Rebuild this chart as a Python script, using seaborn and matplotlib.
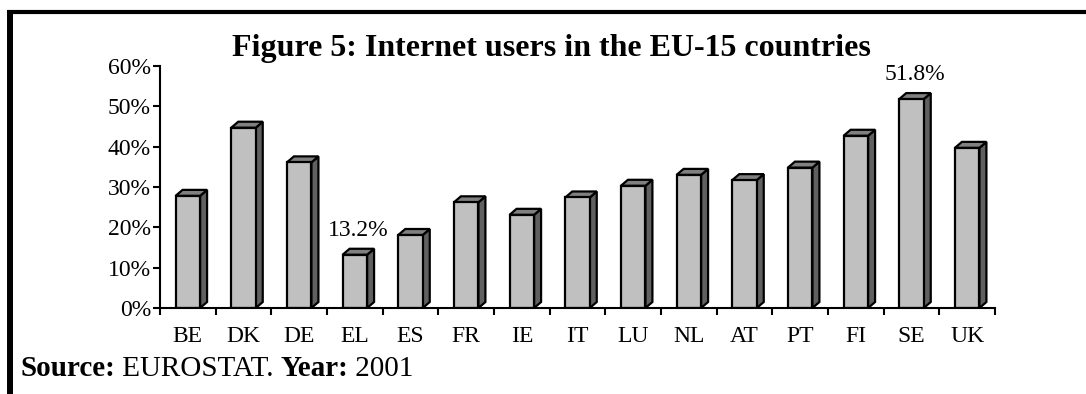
import numpy as np
import pandas as pd
import matplotlib
matplotlib.use("Agg")
import matplotlib.pyplot as plt
from matplotlib.patches import Polygon
from matplotlib.lines import Line2D
from matplotlib.ticker import FixedLocator, FuncFormatter
import seaborn as sns

# Share of internet users by EU-15 country, 2001 (percent)
countries = ["BE", "DK", "DE", "EL", "ES", "FR", "IE", "IT",
             "LU", "NL", "AT", "PT", "FI", "SE", "UK"]
users_pct = [27.8, 44.7, 36.1, 13.2, 18.1, 26.2, 23.1, 27.4,
             30.3, 33.0, 31.7, 34.8, 42.7, 51.8, 39.7]
labelled = ["EL", "SE"]          # min and max get a value label
y_ticks = [0, 10, 20, 30, 40, 50, 60]

sns.set_theme(style="white")
plt.rcParams["font.family"] = ["Liberation Serif", "DejaVu Serif"]

W, H = 1086, 394
fig = plt.figure(figsize=(W / 100, H / 100), dpi=100)
ax = fig.add_axes([160 / W, 1 - 308 / H, 835 / W, 242 / H])

df = pd.DataFrame({"country": countries, "users": users_pct})
sns.barplot(data=df, x="country", y="users", order=countries,
            color="#c0c0c0", saturation=1, width=0.44,
            edgecolor="black", linewidth=1.6, ax=ax, zorder=3)

ax.set_xlim(-0.5, len(countries) - 0.5)
ax.set_ylim(y_ticks[0], y_ticks[-1])
ax.set_xlabel("")
ax.set_ylabel("")

# pseudo-3D: extrude each bar with a side and a top face
p0 = ax.transData.transform((0, 0))
p1 = ax.transData.transform((1, 1))
ddx = 7 / (p1[0] - p0[0])
ddy = 6 / (p1[1] - p0[1])
for bar in list(ax.patches):
    x0, w, h = bar.get_x(), bar.get_width(), bar.get_height()
    xr = x0 + w
    side = Polygon([(xr, 0), (xr, h), (xr + ddx, h + ddy), (xr + ddx, ddy)],
                   closed=True, fc="#606060", ec="black", lw=1.6,
                   clip_on=False, zorder=2, joinstyle="miter")
    top = Polygon([(x0, h), (xr, h), (xr + ddx, h + ddy), (x0 + ddx, h + ddy)],
                  closed=True, fc="#808080", ec="black", lw=1.6,
                  clip_on=False, zorder=2, joinstyle="miter")
    ax.add_patch(side)
    ax.add_patch(top)

# axes styling
for s in ("top", "right"):
    ax.spines[s].set_visible(False)
for s in ("left", "bottom"):
    ax.spines[s].set_color("black")
    ax.spines[s].set_linewidth(1.5)
    ax.spines[s].set_zorder(4)

ax.set_yticks(y_ticks)
ax.yaxis.set_major_formatter(FuncFormatter(lambda v, _: f"{v:.0f}%"))
ax.tick_params(axis="y", direction="out", length=5, width=1.5,
               color="black", labelsize=17, pad=1.5, left=True)
ax.xaxis.set_minor_locator(FixedLocator(np.arange(-0.5, len(countries), 1)))
ax.tick_params(axis="x", which="major", length=0, labelsize=17, pad=13)
ax.tick_params(axis="x", which="minor", direction="out", length=5,
               width=1.5, color="black", bottom=True)
for lab in ax.get_xticklabels() + ax.get_yticklabels():
    lab.set_color("black")

# value labels
for c in labelled:
    i = countries.index(c)
    v = users_pct[i]
    ax.annotate(f"{v:.1f}%", xy=(i + ddx / 2, v + ddy), xytext=(0, 9.5),
                textcoords="offset points", ha="center", va="baseline",
                fontsize=17, color="black", annotation_clip=False)

# title
fig.text(551.5 / W, 1 - 56 / H, "Figure 5: Internet users in the EU-15 countries",
         ha="center", va="baseline", fontsize=23, fontweight="bold",
         color="black")

# source line with mixed weights, pieces placed one after another
parts = [("Source:", "bold"), (" EUROSTAT. ", "normal"),
         ("Year:", "bold"), (" 2001", "normal")]
fig.canvas.draw()
renderer = fig.canvas.get_renderer()
x_cursor = 20
for txt, wt in parts:
    t = fig.text(x_cursor / W, 1 - 376 / H, txt, ha="left", va="baseline",
                 fontsize=21, fontweight=wt, color="black")
    x_cursor = t.get_window_extent(renderer).x1

# page frame: thick rule on top and left
fig.add_artist(Line2D([7 / W, 1], [1 - 12 / H, 1 - 12 / H],
                      transform=fig.transFigure, color="black", lw=3,
                      solid_capstyle="butt"))
fig.add_artist(Line2D([10 / W, 10 / W], [0, 1 - 10 / H],
                      transform=fig.transFigure, color="black", lw=4.3,
                      solid_capstyle="butt"))

fig.savefig("out.png", dpi=100)
